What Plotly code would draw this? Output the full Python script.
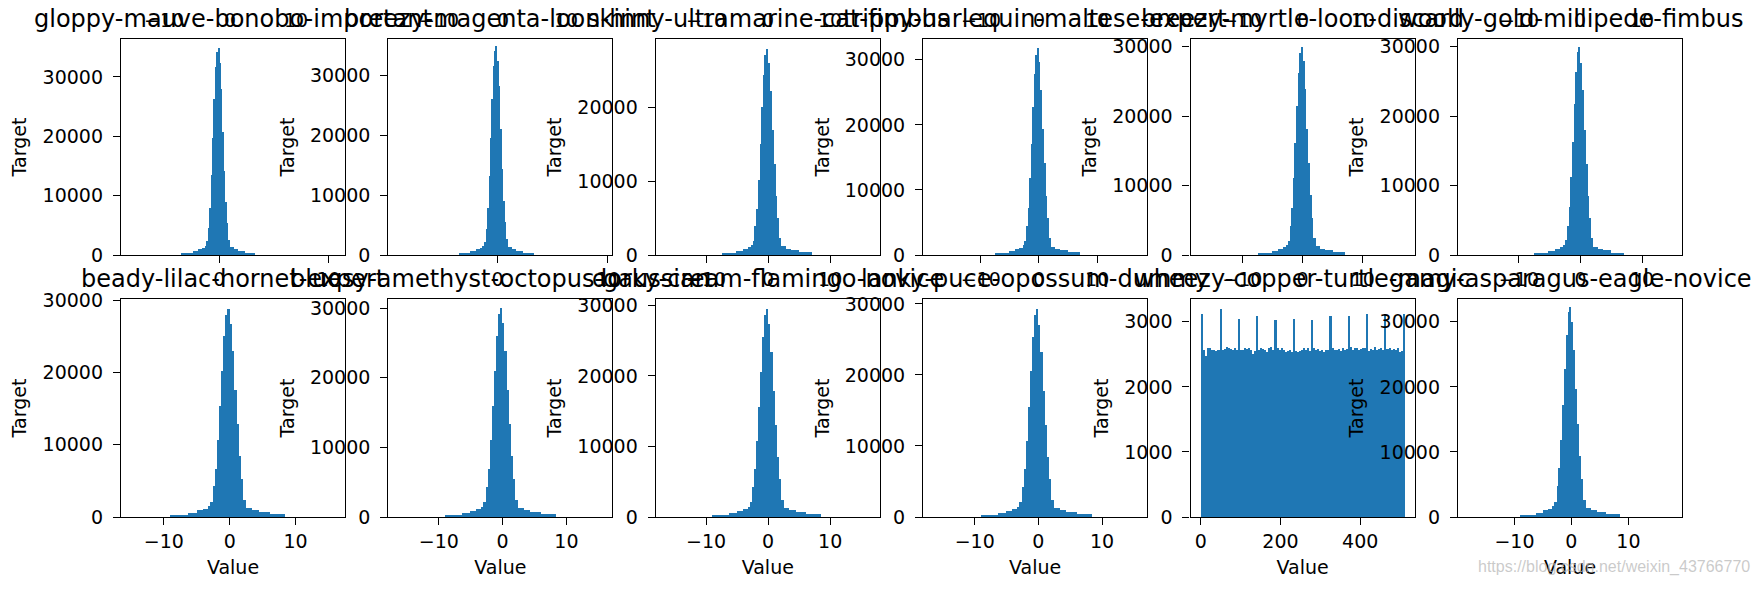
import numpy as np
import plotly.graph_objects as go

# ---------------- data ----------------
top_titles = ["gloppy-mauve-bonobo-important", "breezy-magenta-loon-hint",
              "skinny-ultramarine-cat-fimbus", "trippy-harlequin-maltese-expert",
              "breezy-myrtle-loon-discard", "woolly-gold-millipede-fimbus"]
bottom_titles = ["beady-lilac-hornet-expert", "bluesy-amethyst-octopus-gaussian",
                 "dorky-cream-flamingo-novice", "lanky-puce-opossum-dummy",
                 "wheezy-copper-turtle-magic", "gamy-asparagus-eagle-novice"]

# histogram bin edges (value units)
bell_edges = [-9.0, -6.3, -5.0, -4.05, -3.35, -2.9, -2.6, -2.2, -1.9, -1.6,
              -1.25, -0.95, -0.65, -0.3, 0.0, 0.35, 0.7, 1.05, 1.4, 1.75,
              2.05, 2.5, 3.4, 4.4, 6.05, 8.45]
mid_edges = [-7.5, -5.2, -4.15, -3.35, -2.78, -2.4, -2.15, -1.83, -1.58, -1.33,
             -1.04, -0.79, -0.54, -0.25, 0.0, 0.29, 0.58, 0.87, 1.16, 1.45,
             1.7, 2.08, 2.82, 3.65, 5.0, 7.0]
narrow_edges = [-3.5, -2.45, -1.95, -1.6, -1.3, -1.13, -1.0, -0.86, -0.74, -0.62,
                -0.49, -0.37, -0.25, -0.12, 0.0, 0.13, 0.27, 0.4, 0.54, 0.68,
                0.8, 0.97, 1.32, 1.71, 2.35, 3.3]

top_counts = [
    [330, 650, 980, 1200, 1600, 2300, 4500, 8000, 13500, 19800, 26300, 31700, 34200, 34900, 32300, 28000, 20800, 14100, 8900, 5400, 2600, 1300, 950, 700, 380],
    [330, 640, 960, 1180, 1580, 2250, 4400, 7800, 13200, 19500, 26000, 31500, 34000, 34800, 32400, 28200, 21000, 14300, 9000, 5500, 2650, 1320, 960, 710, 390],
    [300, 560, 860, 1040, 1400, 1950, 3900, 6300, 10200, 15000, 20100, 24400, 27100, 28000, 26000, 22300, 17000, 12400, 8000, 5000, 2300, 1180, 870, 650, 350],
    [330, 620, 950, 1150, 1540, 2200, 4400, 7200, 11800, 17100, 22800, 27800, 30800, 31800, 29600, 25400, 19300, 14100, 9100, 5700, 2600, 1300, 960, 720, 390],
    [310, 590, 900, 1090, 1460, 2080, 4150, 6800, 11100, 16100, 21500, 26200, 29100, 30000, 27900, 23900, 18200, 13300, 8600, 5400, 2450, 1230, 910, 680, 370],
    [320, 600, 910, 1100, 1480, 2100, 4200, 6900, 11200, 16300, 21700, 26400, 29200, 29900, 27700, 23700, 18000, 13100, 8500, 5300, 2400, 1220, 900, 670, 360],
]
top_edges = ["narrow", "narrow", "mid", "mid", "mid", "mid"]
bottom_counts = [
    [320, 600, 920, 1100, 1470, 2070, 4230, 6670, 10600, 15300, 20200, 25000, 28000, 28800, 26700, 23000, 17600, 12900, 8400, 5300, 2400, 1250, 920, 690, 370],
    [330, 610, 930, 1120, 1500, 2120, 4350, 6900, 11000, 15900, 21000, 26000, 29200, 30000, 27800, 23800, 18200, 13300, 8700, 5500, 2480, 1290, 950, 710, 380],
    [320, 600, 920, 1110, 1480, 2090, 4280, 6800, 10800, 15600, 20600, 25500, 28700, 29500, 27300, 23400, 17900, 13100, 8550, 5400, 2440, 1270, 930, 700, 375],
    [320, 600, 915, 1100, 1470, 2080, 4250, 6750, 10700, 15500, 20500, 25300, 28500, 29300, 27100, 23200, 17800, 13000, 8500, 5350, 2420, 1260, 925, 695, 372],
    None,  # uniform column below
    [350, 660, 1010, 1210, 1620, 2300, 4700, 7500, 11900, 17200, 22700, 28000, 31500, 32300, 29900, 25600, 19600, 14300, 9300, 5850, 2650, 1380, 1010, 760, 410],
]

# wheezy-copper-turtle-magic: 100 bins over 0..511
magic_range = [0, 511]
magic_counts = [
    3120, 2560, 2480, 2590, 2600, 2560, 2570, 2550, 2560,
    3200, 2570, 2580, 2610, 2600, 2580, 2560, 2590, 2570,
    3050, 2570, 2560, 2600, 2580, 2590, 2560, 2510, 2550,
    3090, 2560, 2590, 2580, 2560, 2540, 2600, 2610, 2570,
    3030, 2600, 2560, 2590, 2570, 2530, 2550, 2560, 2540,
    3050, 2550, 2540, 2550, 2560, 2600, 2570, 2590, 2550,
    3030, 2600, 2560, 2580, 2550, 2560, 2540, 2570, 2570,
    3090, 2600, 2570, 2560, 2580, 2550, 2590, 2560, 2580,
    3090, 2620, 2570, 2590, 2600, 2560, 2580, 2590, 2600,
    3120, 2550, 2580, 2570, 2610, 2560, 2580, 2590, 2570,
    3120, 2580, 2590, 2570, 2580, 2560, 2590, 2540, 2550,
    3120,
]

# axis ranges and ticks
top_x_ranges = [[-9.0, 11.5], [-9.9, 10.4], [-18.1, 18.0], [-19.9, 18.6], [-18.6, 18.6], [-19.9, 16.5]]
top_x_ticks = [[0, 10], [0, 10], [-10, 0, 10], [-10, 0, 10], [-10, 0, 10], [-10, 0, 10]]
top_x_labels = [["0", "10"], ["0", "10"], ["\u221210", "0", "10"], ["\u221210", "0", "10"],
                ["\u221210", "0", "10"], ["\u221210", "0", "10"]]
top_y_max = [36400, 36000, 29300, 33200, 31100, 31100]

bottom_x_ranges = [[-16.5, 17.5], [-17.9, 17.2], [-18.1, 18.0], [-18.1, 17.1], [-25.55, 536.55], [-19.9, 19.4]]
bottom_x_ticks = [[-10, 0, 10], [-10, 0, 10], [-10, 0, 10], [-10, 0, 10], [0, 200, 400], [-10, 0, 10]]
bottom_x_labels = [["\u221210", "0", "10"]] * 4 + [["0", "200", "400"]] + [["\u221210", "0", "10"]]
bottom_y_max = [30150, 31300, 30900, 30700, 3350, 33500]

y_ticks_big = [0, 10000, 20000, 30000]
y_labels_big = ["0", "10000", "20000", "30000"]
y_ticks_small = [0, 1000, 2000, 3000]
y_labels_small = ["0", "1000", "2000", "3000"]

# tick labels of the row above (cut off at the top of the picture)
above_ticks = [-10, 0, 10]
above_labels = ["\u221210", "0", "10"]

watermark = "https://blog.csdn.net/weixin_43766770"

# ---------------- layout / style ----------------
W, H = 1762, 592
COL_LEFT, COL_PITCH, COL_WIDTH = 121, 267.4, 224
row_px = [(39, 255), (299, 517)]
BLUE = "#1f77b4"
FONT = "DejaVu Sans"
TICK_SIZE = 19
LABEL_SIZE = 19
TITLE_SIZE = 24

fig = go.Figure()
layout = {}
annotations = []


def axis_name(k, letter):
    return letter if k == 1 else f"{letter}{k}"


def common_axis():
    return dict(showline=True, mirror=True, linecolor="black", linewidth=1.4,
                ticks="outside", ticklen=7, tickwidth=1.4, tickcolor="black",
                showgrid=False, zeroline=False, automargin=False, fixedrange=True,
                tickfont=dict(family=FONT, size=TICK_SIZE, color="black"))


def bins(edges):
    e = np.array(edges, dtype=float)
    return (e[:-1] + e[1:]) / 2, np.diff(e)


edge_sets = {"bell": bins(bell_edges), "mid": bins(mid_edges), "narrow": bins(narrow_edges)}
magic_centers, magic_widths = bins(np.linspace(magic_range[0], magic_range[1], len(magic_counts) + 1))

for r in range(2):
    for c in range(6):
        k = r * 6 + c + 1
        xa, ya = axis_name(k, "x"), axis_name(k, "y")
        if r == 1 and c == 4:
            xs, ws, ys = magic_centers, magic_widths, magic_counts
        elif r == 0:
            ys = top_counts[c]
            xs, ws = edge_sets[top_edges[c]]
        else:
            ys = bottom_counts[c]
            xs, ws = edge_sets["bell"]
        fig.add_trace(go.Bar(x=xs, y=ys, width=ws, xaxis=xa, yaxis=ya,
                             marker=dict(color=BLUE, line=dict(width=0)),
                             showlegend=False, hoverinfo="skip"))
        x0 = COL_LEFT + c * COL_PITCH
        x1 = x0 + COL_WIDTH
        t0, t1 = row_px[r]
        xr = top_x_ranges[c] if r == 0 else bottom_x_ranges[c]
        xt = top_x_ticks[c] if r == 0 else bottom_x_ticks[c]
        xl = top_x_labels[c] if r == 0 else bottom_x_labels[c]
        ymax = top_y_max[c] if r == 0 else bottom_y_max[c]
        small = (r == 1 and c == 4)
        xax = common_axis()
        xax.update(domain=[x0 / W, x1 / W], anchor=ya, range=xr,
                   tickmode="array", tickvals=xt, ticktext=xl)
        if r == 1:
            xax["title"] = dict(text="Value", standoff=9,
                                font=dict(family=FONT, size=LABEL_SIZE, color="black"))
        yax = common_axis()
        yax.update(domain=[1 - t1 / H, 1 - t0 / H], anchor=xa, range=[0, ymax],
                   tickmode="array", ticklabelstandoff=6,
                   tickvals=y_ticks_small if small else y_ticks_big,
                   ticktext=y_labels_small if small else y_labels_big,
                   title=dict(text="Target", standoff=10,
                              font=dict(family=FONT, size=LABEL_SIZE, color="black")))
        layout[f"xaxis{'' if k == 1 else k}"] = xax
        layout[f"yaxis{'' if k == 1 else k}"] = yax
        title = top_titles[c] if r == 0 else bottom_titles[c]
        annotations.append(dict(text=title, xref="paper", yref="paper",
                                x=(x0 + x1) / 2 / W, y=1 - (t0 - 20) / H,
                                xanchor="center", yanchor="middle", showarrow=False,
                                font=dict(family=FONT, size=TITLE_SIZE, color="black")))

# tick labels of the (cropped) row above, on matching scales
above_ref = ["x7", "x8", "x3", "x4", "x5", "x6"]
for c in range(6):
    for v, lab in zip(above_ticks, above_labels):
        annotations.append(dict(text=lab, xref=above_ref[c], yref="paper", x=v,
                                y=1 - 20 / H, xanchor="center", yanchor="middle",
                                showarrow=False,
                                font=dict(family=FONT, size=TICK_SIZE, color="black")))

annotations.append(dict(text=watermark, xref="paper", yref="paper", x=1752 / W,
                        y=1 - 567 / H, xanchor="right", yanchor="middle",
                        showarrow=False,
                        font=dict(family="Liberation Sans", size=16,
                                  color="rgba(185,185,185,0.75)")))

fig.update_layout(width=W, height=H, margin=dict(l=0, r=0, t=0, b=0),
                  template="none", paper_bgcolor="white", plot_bgcolor="white",
                  font=dict(family=FONT, color="black"), bargap=0,
                  annotations=annotations, **layout)

fig.write_html("out.html", config={"displayModeBar": False},
               post_script="document.body.style.margin='0px';")
